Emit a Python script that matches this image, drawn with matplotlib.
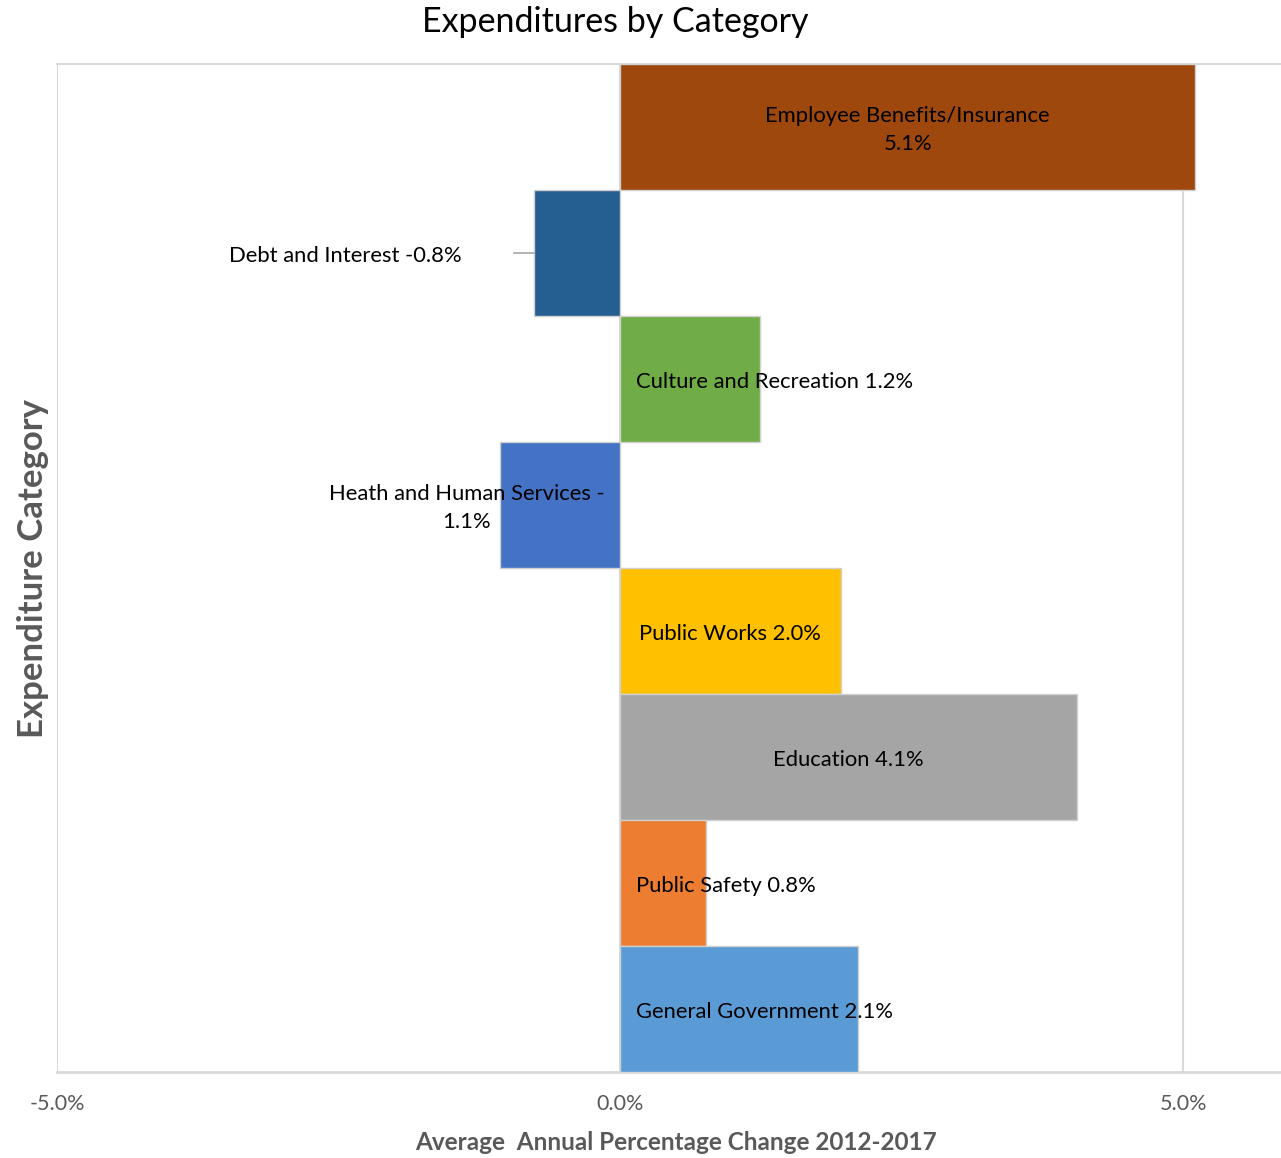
import matplotlib.pyplot as plt
from matplotlib.ticker import FuncFormatter

plt.rcParams['font.family'] = ['Lato', 'DejaVu Sans']

# data, top to bottom
categories = ["Employee Benefits/Insurance", "Debt and Interest", "Culture and Recreation",
              "Heath and Human Services", "Public Works", "Education",
              "Public Safety", "General Government"]
values = [5.11, -0.76, 1.24, -1.07, 1.96, 4.06, 0.76, 2.11]
colors = ["#9E480E", "#255E91", "#70AD47", "#4472C4", "#FFC000", "#A5A5A5", "#ED7D31", "#5B9BD5"]
xticks = [-5, 0, 5]

fig = plt.figure(figsize=(12.81, 11.58), dpi=100)
ax = fig.add_axes([57/1281, 1 - 1072/1158, 1 - 57/1281, (1072 - 64)/1158])

ypos = list(range(len(categories)))
ax.barh(ypos, values, height=1.0, color=colors, edgecolor="#D0D0D0", linewidth=1, zorder=3)
ax.set_ylim(len(categories) - 0.5, -0.5)
ax.set_xlim(-5, 5.87)

ax.set_xticks(xticks)
ax.xaxis.set_major_formatter(FuncFormatter(lambda v, p: f"{v:.1f}%"))
ax.tick_params(axis='x', length=0, pad=16, labelsize=15.5, labelcolor="#595959")
ax.set_yticks([])
ax.grid(axis='x', color="#D9D9D9", linewidth=1.5, zorder=0)
ax.spines['right'].set_visible(False)
ax.spines['left'].set_visible(False)
ax.spines['top'].set_color("#D9D9D9")
ax.spines['top'].set_linewidth(1.5)
ax.spines['bottom'].set_color("#D9D9D9")
ax.spines['bottom'].set_linewidth(2)

fs = 15.8
dy = 0.02
lab = [f"{c} {v:.1f}%" for c, v in zip(categories, values)]
# Employee Benefits - centered, two lines
ax.text(values[0] / 2, 0 + dy, f"{categories[0]}\n{values[0]:.1f}%", ha='center', va='center',
        fontsize=fs, linespacing=1.5, zorder=4)
# Debt - outside to the left with leader line
ax.text(-1.41, 1 + dy, lab[1], ha='right', va='center', fontsize=fs, zorder=4)
ax.plot([-0.94, -0.76], [1, 1], color="#A6A6A6", linewidth=1.2, zorder=4)
# Culture
ax.text(0.14, 2 + dy, lab[2], ha='left', va='center', fontsize=fs, zorder=4)
# Heath
ax.text(-1.36, 3 + dy, f"{categories[3]} -\n{abs(values[3]):.1f}%", ha='center', va='center',
        fontsize=fs, linespacing=1.5, zorder=4)
# Public Works
ax.text(values[4] / 2, 4 + dy, lab[4], ha='center', va='center', fontsize=fs, zorder=4)
# Education
ax.text(values[5] / 2, 5 + dy, lab[5], ha='center', va='center', fontsize=fs, zorder=4)
# Public Safety, General Government
ax.text(0.14, 6 + dy, lab[6], ha='left', va='center', fontsize=fs, zorder=4)
ax.text(0.14, 7 + dy, lab[7], ha='left', va='center', fontsize=fs, zorder=4)

fig.text(615/1281, 1 - 22/1158, "Expenditures by Category", ha='center', va='center', fontsize=24.5)
fig.text(676/1281, 1 - 1143/1158, "Average  Annual Percentage Change 2012-2017", ha='center', va='center',
         fontsize=17.5, fontweight='bold', color="#595959")
fig.text(33/1281, 1 - 568/1158, "Expenditure Category", ha='center', va='center', rotation=90,
         fontsize=25, fontweight='bold', color="#595959")

fig.savefig("out.png", dpi=100)
